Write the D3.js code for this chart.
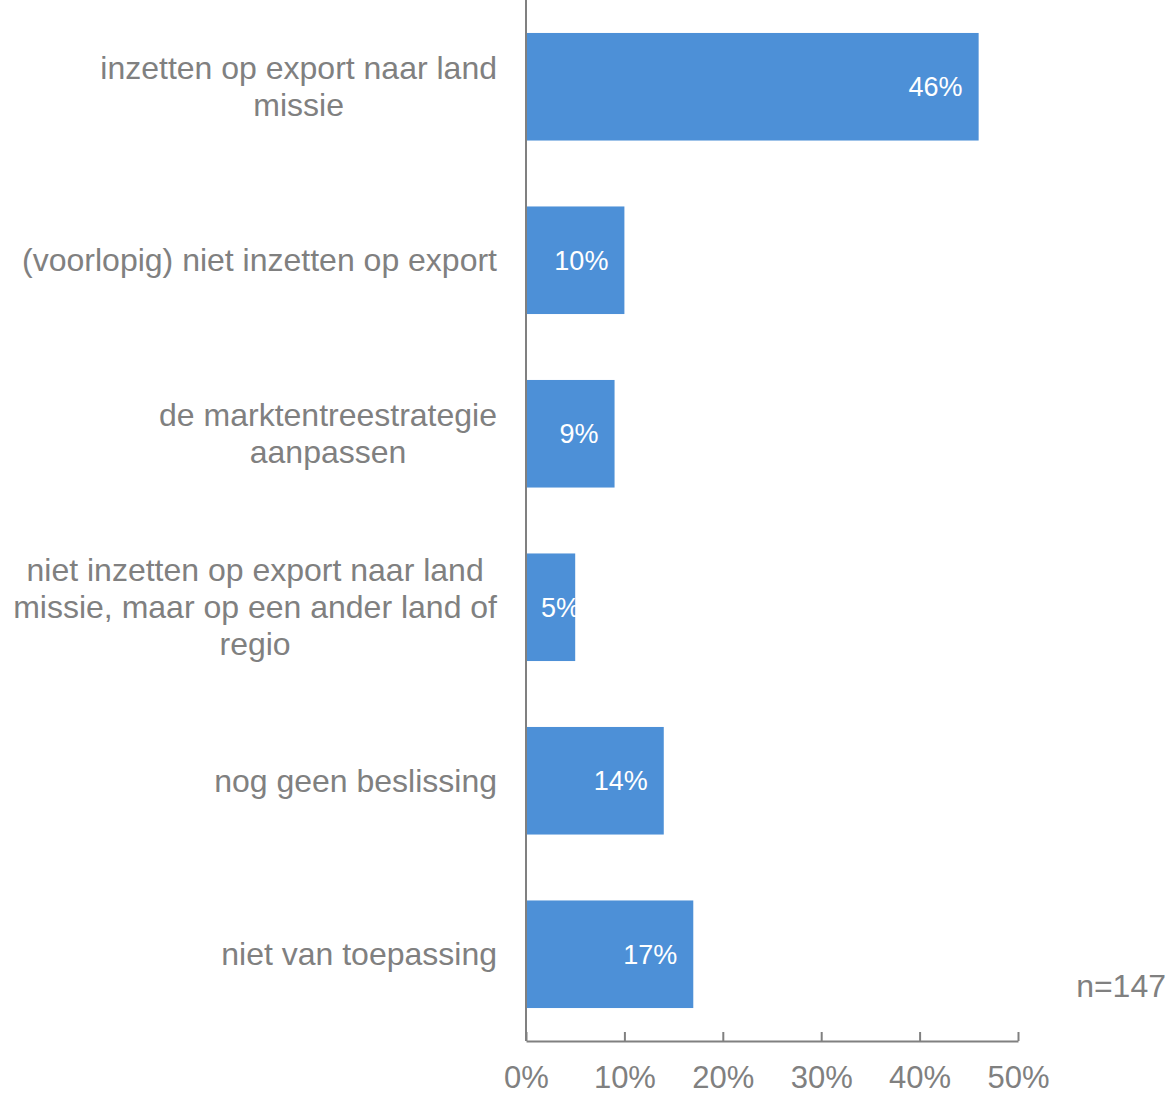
<!DOCTYPE html>
<html>
<head>
<meta charset="utf-8">
<script src="https://cdn.jsdelivr.net/npm/d3@7"></script>
<style>
  body { margin: 0; background: #fff; }
  svg { display: block; font-family: "Liberation Sans", Arial, sans-serif; }
</style>
</head>
<body>
<div id="chart"></div>
<script>
// categories (each entry = lines of the wrapped label)
var categories = [
    ["inzetten op export naar land", "missie"],
    ["(voorlopig) niet inzetten op export"],
    ["de marktentreestrategie", "aanpassen"],
    ["niet inzetten op export naar land", "missie, maar op een ander land of", "regio"],
    ["nog geen beslissing"],
    ["niet van toepassing"]
];
var values = [46, 10, 9, 5, 14, 17];
var xTicks = [0, 10, 20, 30, 40, 50];
var note = "n=147";

var width = 1170, height = 1094;
var axisX = 526, axisBottom = 1041;
var grey = "#808080";
var barColor = "#4d90d7";

var svg = d3.select("#chart").append("svg")
    .attr("width", width)
    .attr("height", height);

var xScale = d3.scaleLinear().domain([0, 50]).range([axisX, 1018]);
var yScale = d3.scaleBand()
    .domain(d3.range(categories.length))
    .range([0, axisBottom])
    .paddingInner(0.38)
    .paddingOuter(0.19);

/* bars */
svg.append("g").selectAll("rect")
    .data(values).enter()
    .append("rect")
    .attr("x", xScale(0))
    .attr("y", (d, i) => yScale(i))
    .attr("width", d => xScale(d) - xScale(0))
    .attr("height", yScale.bandwidth())
    .attr("fill", barColor);

/* value labels */
var vl = svg.append("g").selectAll("text")
    .data(values).enter()
    .append("text")
    .attr("y", (d, i) => yScale(i) + yScale.bandwidth() / 2)
    .attr("dy", "0.35em")
    .attr("text-anchor", "end")
    .attr("fill", "#fff")
    .style("font-size", "27px")
    .text(d => d + "%");
vl.each(function(d) {
    var w = this.getComputedTextLength();
    var x = Math.max(xScale(d) - 16, xScale(0) + 15 + w);
    d3.select(this).attr("x", x);
});

/* category labels */
var lineH = 37;
var labels = svg.append("g").selectAll("g")
    .data(categories).enter()
    .append("g");
labels.each(function(lines, i) {
    var g = d3.select(this);
    var cy = yScale(i) + yScale.bandwidth() / 2;
    var t = g.selectAll("text").data(lines).enter()
        .append("text")
        .attr("y", (d, j) => cy + (j - (lines.length - 1) / 2) * lineH)
        .attr("dy", "0.35em")
        .attr("text-anchor", "middle")
        .attr("fill", grey)
        .style("font-size", "32px")
        .text(d => d);
    var maxW = d3.max(t.nodes(), n => n.getComputedTextLength());
    t.attr("x", 497 - maxW / 2);
});

/* axes */
svg.append("line")
    .attr("x1", axisX).attr("x2", axisX)
    .attr("y1", 0).attr("y2", axisBottom)
    .attr("stroke", grey).attr("stroke-width", 2);

var xAxis = d3.axisBottom(xScale)
    .tickValues(xTicks)
    .tickSize(-9)
    .tickSizeOuter(0)
    .tickPadding(25)
    .tickFormat(d => d + "%");

var gx = svg.append("g")
    .attr("transform", `translate(0, ${axisBottom})`)
    .call(xAxis);
gx.select(".domain").attr("stroke", grey).attr("stroke-width", 2);
gx.selectAll(".tick line").attr("stroke", grey).attr("stroke-width", 2);
gx.selectAll(".tick text")
    .attr("fill", grey)
    .style("font-size", "31px")
    .style("font-family", "Liberation Sans, Arial, sans-serif");

/* note */
svg.append("text")
    .attr("x", 1166)
    .attr("y", 997)
    .attr("text-anchor", "end")
    .attr("fill", grey)
    .style("font-size", "32px")
    .text(note);
</script>
</body>
</html>
